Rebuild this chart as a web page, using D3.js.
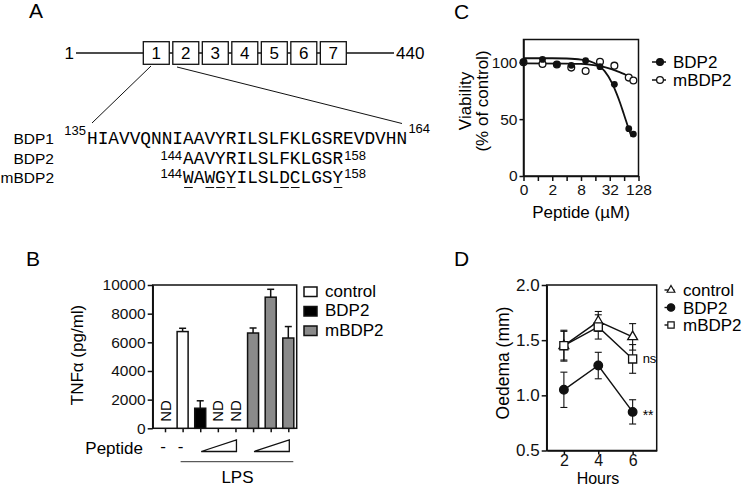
<!DOCTYPE html>
<html>
<head>
<meta charset="utf-8">
<script src="https://cdn.jsdelivr.net/npm/d3@7"></script>
<style>
  body { margin: 0; background: #fff; }
  svg { display: block; font-family: "Liberation Sans", Arial, sans-serif; }
</style>
</head>
<body>
<svg id="fig" width="745" height="487"></svg>
<script>
// ---- Panel A: domain diagram + sequences
const domainLabels = ["1", "2", "3", "4", "5", "6", "7"];
const proteinEnds = ["1", "440"];
const seqNames = ["BDP1", "BDP2", "mBDP2"];
const seqStrings = ["HIAVVQNNIAAVYRILSLFKLGSREVDVHN", "AAVYRILSLFKLGSR", "WAWGYILSLDCLGSY"];
const seqFirst = [135, 144, 144];
const seqLast = [164, 158, 158];
const mutatedPos = [0, 2, 3, 4, 9, 10, 14]; // underlined residues in mBDP2

// ---- Panel B: TNFa ELISA
const tnfGroup = ["control", "control", "BDP2", "BDP2", "BDP2", "mBDP2", "mBDP2", "mBDP2"];
const tnfMean = [null, 6750, 1400, null, null, 6650, 9150, 6300];
const tnfErr = [null, 230, 520, null, null, 350, 550, 800];
const tnfTicks = [0, 2000, 4000, 6000, 8000, 10000];
const tnfLegend = ["control", "BDP2", "mBDP2"];
const tnfFill = { control: "#fff", BDP2: "#000", mBDP2: "#8a8a8a" };

// ---- Panel C: viability
const viabConc = [0, 1.25, 2.5, 5, 10, 20, 40, 80, 100];
const viabBDP2 = [100.5, 102.5, 98.2, 97.3, 101.4, 96.1, 80.6, 41.6, 36.9];
const viabMBDP2 = [100, 98.5, 98, 95.3, 92.3, 100.5, 97, 86.5, 84];
const fitConcBDP2 = [0.5, 2, 4, 8, 12, 18, 25, 36, 45, 53, 63, 73, 82, 92];
const fitBDP2 = [103.5, 103.5, 103.3, 102.4, 100.9, 97.5, 92.2, 81.5, 72, 64, 54.5, 46.3, 40, 34.4];
const fitConcMBDP2 = [0.5, 4, 8, 16, 25, 36, 50, 65, 80, 92];
const fitMBDP2 = [99, 98.8, 98.5, 97.2, 95.8, 93.8, 91.5, 89.5, 87.8, 86.5];
const concTicks = [0, 1, 2, 4, 8, 16, 32, 64, 128];
const concLabels = ["0", "", "2", "", "8", "", "32", "", "128"];
const viabTicks = [0, 50, 100];

// ---- Panel D: oedema
const hours = [2, 4, 6];
const oedControl = [1.45, 1.67, 1.53];
const oedControlErr = [0.13, 0.09, 0.12];
const oedBDP2 = [1.05, 1.27, 0.85];
const oedBDP2Err = [0.16, 0.12, 0.11];
const oedMBDP2 = [1.45, 1.62, 1.33];
const oedMBDP2Err = [0.14, 0.11, 0.13];
const oedTicks = [0.5, 1.0, 1.5, 2.0];
const hourTicks = [2, 4, 6];

const FONT = '"Liberation Sans", Arial, sans-serif';
const MONO = '"Liberation Mono", "Courier New", monospace';
const svg = d3.select("#fig");

function styleAxis(g, size) {
  g.attr("font-family", FONT).attr("font-size", size || 15);
  g.select(".domain").attr("stroke-width", 1.5).attr("stroke", "#111");
  g.selectAll(".tick line").attr("stroke-width", 1.5).attr("stroke", "#111");
  g.selectAll(".tick text").attr("fill", "#111");
}

function panelLabel(t, x, y) {
  svg.append("text").attr("x", x).attr("y", y).attr("font-size", 21).text(t);
}

// ============ Panel A ============
panelLabel("A", 29, 18);
{
  const g = svg.append("g");
  const lineY = 53;
  g.append("line").attr("x1", 76).attr("x2", 394).attr("y1", lineY).attr("y2", lineY)
    .attr("stroke", "#111").attr("stroke-width", 1.5);
  g.append("text").attr("x", 74).attr("y", 59).attr("text-anchor", "end")
    .attr("font-size", 17).text(proteinEnds[0]);
  g.append("text").attr("x", 396).attr("y", 59).attr("font-size", 17).text(proteinEnds[1]);

  const bx = d3.scaleBand().domain(domainLabels).range([143.3, 346.3]).paddingInner(0.12);
  g.selectAll("rect.dom").data(domainLabels).join("rect")
    .attr("x", d => bx(d)).attr("y", 41.7)
    .attr("width", bx.bandwidth()).attr("height", 22.6)
    .attr("fill", "#fff").attr("stroke", "#111").attr("stroke-width", 1.3);
  g.selectAll("text.dom").data(domainLabels).join("text")
    .attr("x", d => bx(d) + bx.bandwidth() / 2).attr("y", 59)
    .attr("text-anchor", "middle").attr("font-size", 17).text(d => d);

  // zoom-in lines from domain 1
  g.append("line").attr("x1", 151).attr("y1", 66).attr("x2", 92).attr("y2", 123)
    .attr("stroke", "#111").attr("stroke-width", 1);
  g.append("line").attr("x1", 177).attr("y1", 67).attr("x2", 402).attr("y2", 123.5)
    .attr("stroke", "#111").attr("stroke-width", 1);

  const fs = 17.8, cw = fs * 0.6, x0 = 87;
  const baselines = [144, 164, 182.5];
  seqNames.forEach((name, i) => {
    const y = baselines[i];
    const xs = x0 + (seqFirst[i] - seqFirst[0]) * cw;
    g.append("text").attr("x", 54).attr("y", y).attr("text-anchor", "end")
      .attr("font-size", 15.5).text(name);
    g.append("text").attr("x", xs - 1).attr("y", y - (i === 0 ? 9 : 4.5)).attr("text-anchor", "end")
      .attr("font-size", 13).text(seqFirst[i]);
    g.append("text").attr("x", xs).attr("y", y).attr("font-family", MONO)
      .attr("font-size", fs).text(seqStrings[i]);
    g.append("text").attr("x", xs + seqStrings[i].length * cw + 1).attr("y", y - (i === 0 ? 11 : 4.5))
      .attr("font-size", 13).text(seqLast[i]);
    if (i === 2) {
      g.selectAll("line.mut").data(mutatedPos).join("line")
        .attr("x1", p => xs + p * cw + 1).attr("x2", p => xs + (p + 1) * cw - 1)
        .attr("y1", y + 5).attr("y2", y + 5)
        .attr("stroke", "#111").attr("stroke-width", 1);
    }
  });
}

// ============ Panel B ============
panelLabel("B", 26, 266);
{
  const g = svg.append("g");
  const L = 152.7, R = 296.7, T = 285, B = 428.3;
  const x = d3.scalePoint().domain(d3.range(tnfMean.length)).range([165, 288.3]);
  const y = d3.scaleLinear().domain([0, 10000]).range([B, T]);
  const bw = 11;

  g.append("rect").attr("x", L).attr("y", T).attr("width", R - L).attr("height", B - T)
    .attr("fill", "none").attr("stroke", "#111").attr("stroke-width", 1.5);

  const ya = g.append("g").attr("transform", `translate(${L},0)`)
    .call(d3.axisLeft(y).tickValues(tnfTicks).tickFormat(d3.format("d"))
      .tickSize(5).tickPadding(2).tickSizeOuter(0));
  styleAxis(ya, 15.5);
  const xa = g.append("g").attr("transform", `translate(0,${B})`)
    .call(d3.axisBottom(x).tickSize(4).tickFormat(""));
  styleAxis(xa);
  xa.select(".domain").remove();

  const idx = d3.range(tnfMean.length).filter(i => tnfMean[i] !== null);
  g.selectAll("line.err").data(idx).join("line")
    .attr("x1", i => x(i)).attr("x2", i => x(i))
    .attr("y1", i => y(tnfMean[i])).attr("y2", i => y(tnfMean[i] + tnfErr[i]))
    .attr("stroke", "#111").attr("stroke-width", 1.5);
  g.selectAll("line.cap").data(idx).join("line")
    .attr("x1", i => x(i) - 3.5).attr("x2", i => x(i) + 3.5)
    .attr("y1", i => y(tnfMean[i] + tnfErr[i])).attr("y2", i => y(tnfMean[i] + tnfErr[i]))
    .attr("stroke", "#111").attr("stroke-width", 1.5);
  g.selectAll("rect.bar").data(idx).join("rect")
    .attr("x", i => x(i) - bw / 2).attr("width", bw)
    .attr("y", i => y(tnfMean[i])).attr("height", i => y(0) - y(tnfMean[i]))
    .attr("fill", i => tnfFill[tnfGroup[i]]).attr("stroke", "#111").attr("stroke-width", 1.5);

  const nd = d3.range(tnfMean.length).filter(i => tnfMean[i] === null);
  g.selectAll("text.nd").data(nd).join("text")
    .attr("transform", i => `translate(${x(i) + 5.5},${B - 6.5}) rotate(-90)`)
    .attr("font-size", 15).text("ND");

  g.append("text").attr("transform", `translate(83,355) rotate(-90)`)
    .attr("text-anchor", "middle").attr("font-size", 17).text("TNF\u03b1 (pg/ml)");

  // legend
  tnfLegend.forEach((k, i) => {
    g.append("rect").attr("x", 304).attr("y", 287 + i * 19.5).attr("width", 13).attr("height", 9.5)
      .attr("fill", tnfFill[k]).attr("stroke", "#111").attr("stroke-width", 1.5);
    g.append("text").attr("x", 325).attr("y", 296.5 + i * 19.5).attr("font-size", 17).text(k);
  });

  // peptide row
  g.append("text").attr("x", 143).attr("y", 454).attr("text-anchor", "end")
    .attr("font-size", 17).text("Peptide");
  [0, 1].forEach(i => {
    g.append("text").attr("x", x(i) - 2).attr("y", 452).attr("text-anchor", "middle")
      .attr("font-size", 17).text("-");
  });
  [[2, 4], [5, 7]].forEach(([a, b]) => {
    const xa0 = x(a) + 1, xb0 = x(b) + 1;
    g.append("path").attr("d", `M${xa0},451.5 L${xb0},451.5 L${xb0},440 Z`)
      .attr("fill", "none").attr("stroke", "#111").attr("stroke-width", 1.3);
  });
  g.append("line").attr("x1", x(1) - 2).attr("x2", x(7) + 5).attr("y1", 461.7).attr("y2", 461.7)
    .attr("stroke", "#333").attr("stroke-width", 1);
  g.append("text").attr("x", (x(1) + x(7)) / 2 + 2).attr("y", 483).attr("text-anchor", "middle")
    .attr("font-size", 17).text("LPS");
}

// ============ Panel C ============
panelLabel("C", 454, 19);
{
  const g = svg.append("g");
  const L = 523.5, R = 638.5, T = 39.5, B = 176;
  const x = d3.scaleLog().base(2).domain([0.5, 128]).range([L, R]);
  const cx = c => x(c === 0 ? 0.5 : c);
  const y = d3.scaleLinear().domain([0, 120]).range([B, T]);

  g.append("rect").attr("x", L).attr("y", T).attr("width", R - L).attr("height", B - T)
    .attr("fill", "none").attr("stroke", "#111").attr("stroke-width", 1.5);
  const ya = g.append("g").attr("transform", `translate(${L},0)`)
    .call(d3.axisLeft(y).tickValues(viabTicks).tickSize(4).tickPadding(2).tickSizeOuter(0));
  styleAxis(ya, 15.5);
  const xa = g.append("g").attr("transform", `translate(0,${B})`)
    .call(d3.axisBottom(x).tickValues(concTicks.map(c => c === 0 ? 0.5 : c))
      .tickFormat((d, i) => concLabels[i]).tickSize(5).tickPadding(3).tickSizeOuter(0));
  styleAxis(xa, 15.5);

  const line = d3.line().curve(d3.curveMonotoneX);
  g.append("path").attr("d", line(fitConcMBDP2.map((c, i) => [cx(c), y(fitMBDP2[i])])))
    .attr("fill", "none").attr("stroke", "#111").attr("stroke-width", 1.8);
  g.append("path").attr("d", line(fitConcBDP2.map((c, i) => [cx(c), y(fitBDP2[i])])))
    .attr("fill", "none").attr("stroke", "#111").attr("stroke-width", 1.8);

  g.selectAll("circle.m").data(viabConc).join("circle")
    .attr("cx", d => cx(d)).attr("cy", (d, i) => y(viabMBDP2[i])).attr("r", 3.4)
    .attr("fill", "#fff").attr("stroke", "#111").attr("stroke-width", 1.3);
  g.selectAll("circle.b").data(viabConc).join("circle")
    .attr("cx", d => cx(d)).attr("cy", (d, i) => y(viabBDP2[i])).attr("r", 3.4)
    .attr("fill", "#111");

  g.append("text").attr("transform", "translate(471,101) rotate(-90)")
    .attr("text-anchor", "middle").attr("font-size", 17).text("Viability");
  g.append("text").attr("transform", "translate(488,101) rotate(-90)")
    .attr("text-anchor", "middle").attr("font-size", 17).text("(% of control)");
  g.append("text").attr("x", 581).attr("y", 218).attr("text-anchor", "middle")
    .attr("font-size", 17).text("Peptide (\u00b5M)");

  // legend
  [["BDP2", "#111"], ["mBDP2", "#fff"]].forEach(([k, f], i) => {
    const yy = 62 + i * 18;
    g.append("line").attr("x1", 652).attr("x2", 666).attr("y1", yy).attr("y2", yy)
      .attr("stroke", "#111").attr("stroke-width", 1.5);
    g.append("circle").attr("cx", 660).attr("cy", yy).attr("r", 3.4)
      .attr("fill", f).attr("stroke", "#111").attr("stroke-width", 1.3);
    g.append("text").attr("x", 673).attr("y", yy + 6).attr("font-size", 17).text(k);
  });
}

// ============ Panel D ============
panelLabel("D", 454, 266);
{
  const g = svg.append("g");
  const L = 546.7, R = 656.7, T = 285, B = 450.5;
  const x = d3.scaleLinear().domain([1, 7.4]).range([L, R]);
  const y = d3.scaleLinear().domain([0.5, 2.0]).range([B, T]);

  g.append("rect").attr("x", L).attr("y", T).attr("width", R - L).attr("height", B - T)
    .attr("fill", "none").attr("stroke", "#111").attr("stroke-width", 1.5);
  const ya = g.append("g").attr("transform", `translate(${L},0)`)
    .call(d3.axisLeft(y).tickValues(oedTicks).tickFormat(d3.format(".1f"))
      .tickSize(5).tickPadding(2).tickSizeOuter(0));
  styleAxis(ya, 17);
  const xa = g.append("g").attr("transform", `translate(0,${B})`)
    .call(d3.axisBottom(x).tickValues(hourTicks).tickFormat(d3.format("d"))
      .tickSize(4).tickPadding(0).tickSizeOuter(0));
  styleAxis(xa, 16);

  const series = [
    { v: oedControl, e: oedControlErr, sym: d3.symbolTriangle, size: 42, leg: 26 },
    { v: oedMBDP2, e: oedMBDP2Err, sym: d3.symbolSquare, size: 66, leg: 40 },
    { v: oedBDP2, e: oedBDP2Err, sym: d3.symbolCircle, size: 58, leg: 44, filled: true }
  ];
  const line = d3.line();
  series.forEach(s => {
    g.append("path").attr("d", line(hours.map((h, i) => [x(h), y(s.v[i])])))
      .attr("fill", "none").attr("stroke", "#111").attr("stroke-width", 1.4);
  });
  series.forEach(s => {
    hours.forEach((h, i) => {
      const lo = y(s.v[i] - s.e[i]), hi = y(s.v[i] + s.e[i]);
      g.append("line").attr("x1", x(h)).attr("x2", x(h)).attr("y1", lo).attr("y2", hi)
        .attr("stroke", "#111").attr("stroke-width", 1.1);
      [lo, hi].forEach(yy => g.append("line").attr("x1", x(h) - 3.5).attr("x2", x(h) + 3.5)
        .attr("y1", yy).attr("y2", yy).attr("stroke", "#111").attr("stroke-width", 1.1));
    });
  });
  series.forEach(s => {
    g.selectAll(null).data(hours).join("path")
      .attr("transform", (h, i) => `translate(${x(h)},${y(s.v[i])})`)
      .attr("d", d3.symbol(s.sym, s.size))
      .attr("fill", s.filled ? "#111" : "#fff").attr("stroke", "#111").attr("stroke-width", 1.3);
  });

  g.append("text").attr("x", x(6) + 10).attr("y", y(oedMBDP2[2]) + 4).attr("font-size", 13).text("ns");
  g.append("text").attr("x", x(6) + 10).attr("y", y(oedBDP2[2]) + 8).attr("font-size", 14).text("**");

  g.append("text").attr("transform", "translate(509,363) rotate(-90)")
    .attr("text-anchor", "middle").attr("font-size", 17.5).text("Oedema (mm)");
  g.append("text").attr("x", 598).attr("y", 484).attr("text-anchor", "middle")
    .attr("font-size", 16).text("Hours");

  // legend
  const legNames = ["control", "BDP2", "mBDP2"];
  const legSym = [series[0], series[2], series[1]];
  legNames.forEach((k, i) => {
    const yy = 290 + i * 17.5;
    g.append("line").attr("x1", 664.5).attr("x2", 674.5).attr("y1", yy).attr("y2", yy)
      .attr("stroke", "#111").attr("stroke-width", 1.4);
    g.append("path").attr("transform", `translate(671,${yy})`)
      .attr("d", d3.symbol(legSym[i].sym, legSym[i].leg))
      .attr("fill", legSym[i].filled ? "#111" : "#fff").attr("stroke", "#111").attr("stroke-width", 1.2);
    g.append("text").attr("x", 683).attr("y", yy + 6.3).attr("font-size", 17).text(k);
  });
}
</script>
</body>
</html>
